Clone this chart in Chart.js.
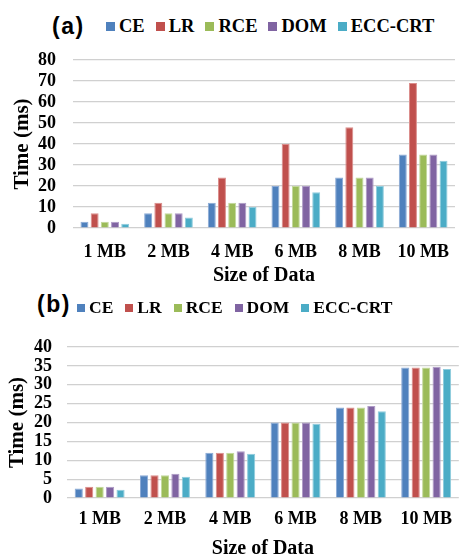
<!DOCTYPE html>
<html>
<head>
<meta charset="utf-8">
<script src="https://cdn.jsdelivr.net/npm/chart.js@4.4.1/dist/chart.umd.min.js"></script>
<style>
    html, body { margin: 0; padding: 0; background: #fff; }
    body { width: 463px; height: 554px; position: relative; overflow: hidden; }
    .panel { position: absolute; left: 0; width: 463px; }
    .tag { position: absolute; font: bold 23px "Liberation Sans", Arial, sans-serif; letter-spacing: 1.5px; color: #000; }
    .legend { position: absolute; display: flex; align-items: center; font-family: "Liberation Serif", "Times New Roman", serif; font-weight: bold; color: #000; white-space: nowrap; }
    .legend .box { display: inline-block; margin-right: 4px; }
</style>
</head>
<body>

<div class="tag" style="left:52px; top:13px;">(a)</div>
<div class="legend" id="legendA" style="left:106px; top:16px; font-size:18.5px;"></div>
<div class="panel" style="top:0; height:288px;"><canvas id="chartA"></canvas></div>

<div class="tag" style="left:37px; top:291px;">(b)</div>
<div class="legend" id="legendB" style="left:77px; top:297px; font-size:17.5px;"></div>
<div class="panel" style="top:280px; height:281px;"><canvas id="chartB"></canvas></div>

<script>
"use strict";

// categories / series
var sizeLabels = ['1 MB', '2 MB', '4 MB', '6 MB', '8 MB', '10 MB'];
var seriesNames = ['CE', 'LR', 'RCE', 'DOM', 'ECC-CRT'];
var seriesColors = ['#4F81BD', '#C0504D', '#9BBB59', '#8064A2', '#4BACC6'];
var seriesEdges = ['#8BAAD6', '#DB8E8C', '#C2D89C', '#AE9BC6', '#8FCCDD'];

// (a) values, ms
var ceA  = [3, 7, 12, 20, 24, 35];
var lrA  = [7, 12, 24, 40, 48, 69];
var rceA = [3, 7, 12, 20, 24, 35];
var domA = [3, 7, 12, 20, 24, 35];
var eccA = [2, 5, 10, 17, 20, 32];

// (b) values, ms
var ceB  = [2.5, 6, 12, 20, 24, 34.6];
var lrB  = [3, 6, 12, 20, 24, 34.6];
var rceB = [3, 6, 12, 20, 24, 34.6];
var domB = [3, 6.4, 12.4, 20, 24.4, 34.8];
var eccB = [2.2, 5.6, 11.7, 19.7, 23, 34.2];

// tick labels
var yTicksA = [0, 10, 20, 30, 40, 50, 60, 70, 80];
var yTicksB = [0, 5, 10, 15, 20, 25, 30, 35, 40];

var yTitle = 'Time (ms)';
var xTitle = 'Size of Data';

var serif = '"Liberation Serif", "Times New Roman", serif';

function buildLegend(id, boxSize, gap) {
    var el = document.getElementById(id);
    seriesNames.forEach(function(name, i) {
        var item = document.createElement('span');
        item.style.display = 'inline-flex';
        item.style.alignItems = 'center';
        item.style.marginRight = gap + 'px';
        var box = document.createElement('span');
        box.className = 'box';
        box.style.width = boxSize + 'px';
        box.style.height = boxSize + 'px';
        box.style.background = seriesColors[i];
        item.appendChild(box);
        item.appendChild(document.createTextNode(name));
        el.appendChild(item);
    });
}

function makeDatasets(seriesData) {
    return seriesData.map(function(values, i) {
        return {
            label: seriesNames[i],
            data: values,
            backgroundColor: seriesColors[i],
            borderColor: seriesEdges[i],
            borderWidth: 1,
            borderSkipped: 'bottom',
            barPercentage: 0.78,
            categoryPercentage: 0.8
        };
    });
}

function makeChart(canvasId, seriesData, yTicks, opt) {
    var ctx = document.getElementById(canvasId).getContext('2d');
    return new Chart(ctx, {
        type: 'bar',
        data: {
            labels: sizeLabels,
            datasets: makeDatasets(seriesData)
        },
        options: {
            responsive: true,
            maintainAspectRatio: false,
            animation: false,
            layout: {
                padding: { top: opt.top, right: 1, bottom: 0, left: 0 }
            },
            plugins: {
                legend: { display: false },
                tooltip: { enabled: false }
            },
            scales: {
                x: {
                    grid: { display: false, drawTicks: false },
                    border: { display: false },
                    ticks: {
                        color: '#000',
                        padding: opt.xPad,
                        font: { family: serif, size: 18, weight: 'bold' }
                    },
                    title: {
                        display: true,
                        text: xTitle,
                        color: '#000',
                        padding: 0,
                        font: { family: serif, size: 20, weight: 'bold', lineHeight: 1.2 }
                    },
                    afterFit: function(scale) {
                        scale.height = opt.xHeight;
                    }
                },
                y: {
                    min: yTicks[0],
                    max: yTicks[yTicks.length - 1],
                    grid: {
                        color: '#d0d0d0',
                        lineWidth: 1.2,
                        drawTicks: false
                    },
                    border: { display: false },
                    ticks: {
                        stepSize: yTicks[1] - yTicks[0],
                        autoSkip: false,
                        color: '#000',
                        padding: opt.yPad,
                        font: { family: serif, size: 18, weight: 'bold' }
                    },
                    title: {
                        display: true,
                        text: yTitle,
                        color: '#000',
                        padding: { top: opt.titleLeft, bottom: 0 },
                        font: { family: serif, size: 21, weight: 'bold', lineHeight: 1.2 }
                    },
                    afterFit: function(scale) {
                        scale.width = opt.yWidth;
                    }
                }
            }
        }
    });
}

buildLegend('legendA', 9, 11);
buildLegend('legendB', 8, 12);

var chartA = makeChart('chartA', [ceA, lrA, rceA, domA, eccA], yTicksA, {
    top: 60, xHeight: 60, xPad: 14, yWidth: 73, yPad: 17, titleLeft: 10
});

var chartB = makeChart('chartB', [ceB, lrB, rceB, domB, eccB], yTicksB, {
    top: 67, xHeight: 63, xPad: 11, yWidth: 67, yPad: 15, titleLeft: 5
});
</script>
</body>
</html>
